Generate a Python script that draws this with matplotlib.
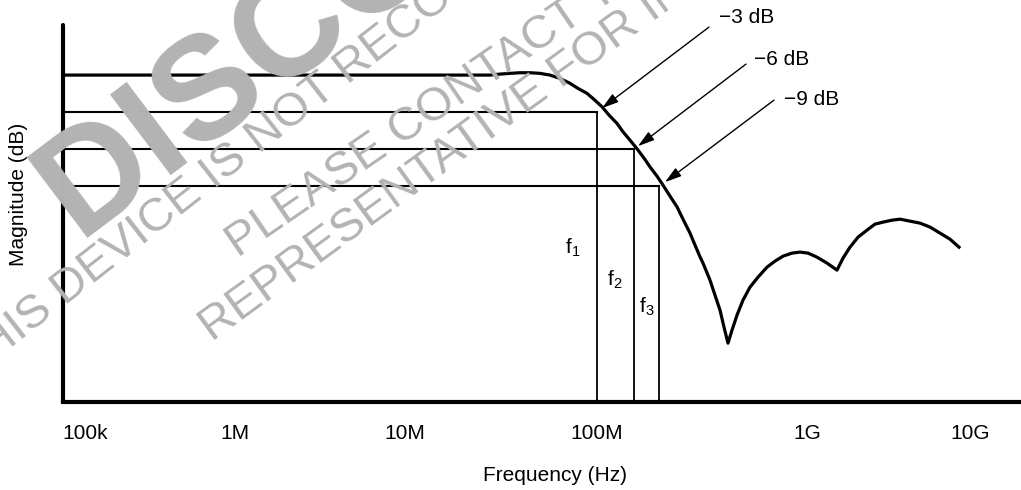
import matplotlib
matplotlib.use("Agg")
import matplotlib.pyplot as plt

plt.rcParams["font.family"] = ["Liberation Sans", "DejaVu Sans"]
plt.rcParams["mathtext.fontset"] = "custom"
plt.rcParams["mathtext.rm"] = "Liberation Sans"

# schematic frequency position (decade-like units) and magnitude in dB
freq_pos = [0.00, 4.27, 4.37, 4.47, 4.57, 4.67, 4.77, 4.87, 4.97, 5.07, 5.15, 5.24,
            5.31, 5.39, 5.46, 5.54, 5.60, 5.67, 5.75, 5.81, 5.87, 5.94, 6.00, 6.07,
            6.14, 6.20, 6.27, 6.32, 6.37, 6.40, 6.47, 6.52, 6.57, 6.61, 6.65,
            6.69, 6.74, 6.80, 6.87, 6.95, 7.04, 7.12, 7.20, 7.29, 7.37, 7.45, 7.54,
            7.64, 7.74, 7.80, 7.87, 7.95, 8.04, 8.12, 8.20, 8.29, 8.37, 8.47, 8.57,
            8.67, 8.77, 8.87, 8.96]
magnitude = [0.00, 0.00, 0.08, 0.14, 0.19, 0.19, 0.14, 0.00, -0.27, -0.67, -1.08, -1.48,
             -1.97, -2.57, -3.24, -3.92, -4.60, -5.27, -6.08, -6.73, -7.44, -8.19, -8.92, -9.81,
             -10.68, -11.68, -12.81, -13.78, -14.73, -15.24, -16.62, -17.84, -19.05, -20.43, -21.73,
             -20.68, -19.46, -18.24, -17.19, -16.38, -15.57, -15.08, -14.68, -14.43, -14.35, -14.43, -14.76,
             -15.24, -15.81, -14.84, -13.95, -13.14, -12.57, -12.08, -11.92, -11.76, -11.68, -11.84, -12.00,
             -12.32, -12.81, -13.30, -13.95]

tick_pos = [0.22, 1.72, 3.42, 5.34, 7.44, 9.07]
tick_labels = ["100k", "1M", "10M", "100M", "1G", "10G"]

cut_levels = [-3, -6, -9]
cut_freqs = [5.34, 5.71, 5.96]
cut_names = ["f$_{\\mathregular{1}}$", "f$_{\\mathregular{2}}$", "f$_{\\mathregular{3}}$"]
name_pos = [(5.10, -14.0), (5.52, -16.6), (5.84, -18.8)]
arrow_tips = [(5.39, -2.68), (5.75, -5.76), (6.02, -8.68)]
arrow_tails = [(6.46, 3.89), (6.83, 0.89), (7.11, -2.03)]
arrow_text = [(6.56, 4.70), (6.91, 1.30), (7.21, -1.95)]

fig = plt.figure(figsize=(10.21, 4.90), dpi=100)

# watermark
wm = "#b3b3b3"
fig.text(78 / 1021, 1 - 238 / 490, "DISCONTINUED", fontsize=105, fontweight="bold", color=wm,
         rotation=37, rotation_mode="anchor", ha="left", va="baseline", zorder=0)
fig.text(-30 / 1021, 1 - 380 / 490, "THIS DEVICE IS NOT RECOMMENDED FOR NEW DESIGNS.", fontsize=34,
         color=wm, rotation=38, rotation_mode="anchor", ha="left", va="baseline", zorder=0)
fig.text(238 / 1021, 1 - 258 / 490, "PLEASE CONTACT YOUR TI", fontsize=34,
         color=wm, rotation=34.5, rotation_mode="anchor", ha="left", va="baseline", zorder=0)
fig.text(212 / 1021, 1 - 342 / 490, "REPRESENTATIVE FOR INFORMATION.", fontsize=34,
         color=wm, rotation=36, rotation_mode="anchor", ha="left", va="baseline", zorder=0)

ax = fig.add_axes([63 / 1021, 88 / 490, 958 / 1021, 377 / 490])
ax.patch.set_alpha(0)

ax.plot(freq_pos, magnitude, color="black", lw=2.3, solid_joinstyle="round", zorder=3)

for lvl, f in zip(cut_levels, cut_freqs):
    ax.plot([0, f], [lvl, lvl], color="black", lw=1.5, zorder=2)
    ax.plot([f, f], [lvl, -26.5], color="black", lw=1.3, zorder=2)

for name, (x, y) in zip(cut_names, name_pos):
    ax.text(x, y, name, fontsize=15, ha="center", va="center")

for lvl, tip, tail, tp in zip(cut_levels, arrow_tips, arrow_tails, arrow_text):
    ax.annotate("", xy=tip, xytext=tail, annotation_clip=False,
                arrowprops=dict(arrowstyle="-|>,head_length=0.5,head_width=0.15",
                                mutation_scale=20, color="black", lw=1.0,
                                shrinkA=0, shrinkB=0))
    ax.text(tp[0], tp[1], "\u2212%d dB" % abs(lvl), fontsize=15, ha="left", va="center",
            clip_on=False)

ax.set_xlim(0, 9.58)
ax.set_ylim(-26.5, 4.06)
ax.set_xticks(tick_pos)
ax.set_xticklabels(tick_labels, fontsize=15)
ax.set_yticks([])
ax.tick_params(axis="x", length=0, pad=16)

for side in ["top", "right"]:
    ax.spines[side].set_visible(False)
ax.spines["left"].set_linewidth(3)
ax.spines["bottom"].set_linewidth(3)
ax.spines["left"].set_capstyle("round")

ax.set_xlabel("Frequency (Hz)", fontsize=15)
ax.xaxis.set_label_coords(0.514, -0.17)
ax.set_ylabel("Magnitude (dB)", fontsize=15)
ax.yaxis.set_label_coords(-0.037, 0.55)

fig.savefig("out.png", dpi=100)
